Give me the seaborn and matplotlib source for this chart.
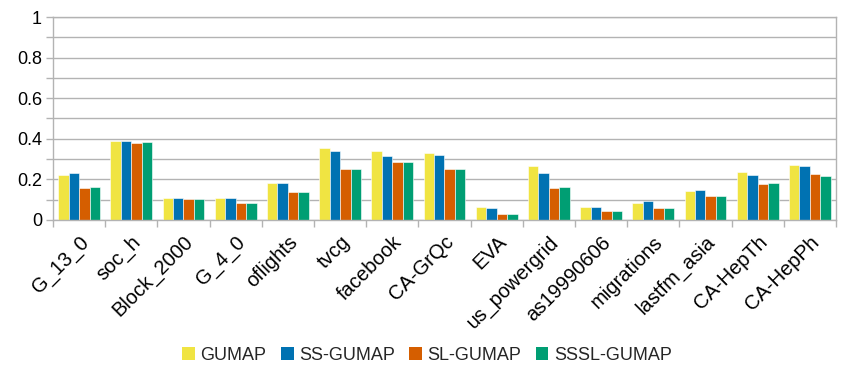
import matplotlib
matplotlib.use("Agg")
import matplotlib.pyplot as plt
import seaborn as sns
import pandas as pd
import numpy as np
from matplotlib.patches import Patch
from matplotlib.ticker import MultipleLocator, FixedLocator

categories = ["G_13_0", "soc_h", "Block_2000", "G_4_0", "oflights", "tvcg", "facebook",
              "CA-GrQc", "EVA", "us_powergrid", "as19990606", "migrations", "lastfm_asia",
              "CA-HepTh", "CA-HepPh"]
series = ["GUMAP", "SS-GUMAP", "SL-GUMAP", "SSSL-GUMAP"]
gumap = [0.222, 0.387, 0.107, 0.109, 0.184, 0.355, 0.339, 0.329, 0.062, 0.268, 0.062, 0.086, 0.143, 0.238, 0.270]
ss_gumap = [0.230, 0.391, 0.107, 0.109, 0.181, 0.340, 0.316, 0.319, 0.058, 0.232, 0.064, 0.095, 0.146, 0.222, 0.266]
sl_gumap = [0.158, 0.380, 0.104, 0.086, 0.138, 0.252, 0.285, 0.252, 0.031, 0.158, 0.044, 0.058, 0.118, 0.178, 0.225]
sssl_gumap = [0.163, 0.383, 0.104, 0.086, 0.137, 0.250, 0.286, 0.253, 0.030, 0.161, 0.043, 0.058, 0.118, 0.181, 0.215]
colors = ["#f0e442", "#0072b2", "#d55e00", "#009e73"]

values = [gumap, ss_gumap, sl_gumap, sssl_gumap]
df = pd.DataFrame({
    "dataset": categories * len(series),
    "method": [s for s in series for _ in categories],
    "value": [v for vals in values for v in vals],
})

sns.set_theme(style="white")
plt.rcParams["font.family"] = ["Liberation Sans", "DejaVu Sans"]

fig = plt.figure(figsize=(8.54, 3.71), dpi=100)
ax = fig.add_axes([53/854, 1 - 220/371, (836 - 53)/854, (220 - 17)/371])

sns.barplot(data=df, x="dataset", y="value", hue="method", order=categories,
            hue_order=series, palette=colors, width=0.8, gap=0, ax=ax,
            legend=False, edgecolor="white", linewidth=0.4, saturation=1)

grid_c = "#b3b3b3"
ax.set_ylim(0, 1)
ax.set_xlim(-0.5, len(categories) - 0.5)
ax.yaxis.set_minor_locator(MultipleLocator(0.1))
ax.set_yticks([0, 0.2, 0.4, 0.6, 0.8, 1.0])
ax.set_yticklabels(["0", "0.2", "0.4", "0.6", "0.8", "1"], fontsize=13, color="#000000")
ax.grid(axis="y", which="both", color=grid_c, linewidth=1)
ax.set_axisbelow(True)
ax.tick_params(axis="y", which="both", length=5, width=1, color=grid_c, left=True, pad=3)

ax.set_xticks(range(len(categories)))
ax.set_xticklabels(categories, rotation=45, ha="right", rotation_mode="anchor",
                   fontsize=14.5, color="#000000")
ax.xaxis.set_minor_locator(FixedLocator(np.arange(-0.5, len(categories), 1.0)))
ax.tick_params(axis="x", which="major", length=0, pad=9)
ax.tick_params(axis="x", which="minor", length=5, width=1, color=grid_c, bottom=True)

for side in ["left", "right", "bottom", "top"]:
    ax.spines[side].set_color(grid_c)
    ax.spines[side].set_linewidth(1)
ax.set_xlabel("")
ax.set_ylabel("")

handles = [Patch(facecolor=c, edgecolor="none") for c in colors]
fig.legend(handles, series, loc="center", bbox_to_anchor=(0.5, 1 - 355/371), ncol=4,
           frameon=False, fontsize=13, handlelength=0.7, handleheight=0.7,
           handletextpad=0.3, columnspacing=0.8)

fig.savefig("out.png", dpi=100)
